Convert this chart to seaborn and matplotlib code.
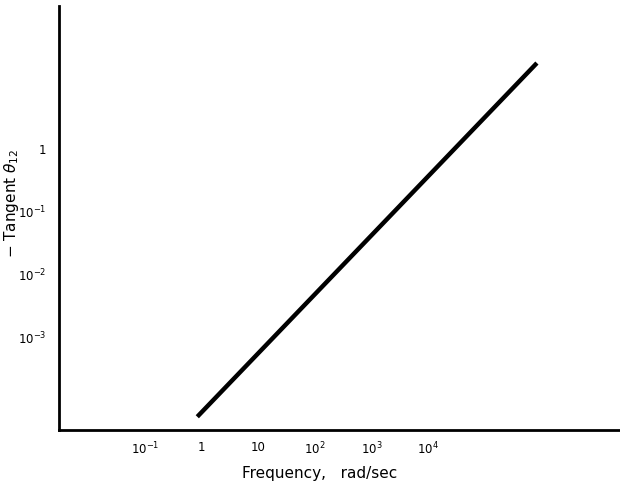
import numpy as np
import pandas as pd
import matplotlib
matplotlib.use("Agg")
import matplotlib.pyplot as plt
import seaborn as sns

# values (log-log straight line, end points)
frequency = [0.83, 8.5e5]      # rad/sec
tangent = [5.6e-5, 23.0]       # - tan(theta_12)

x_ticks = [1e-1, 1, 10, 1e2, 1e3, 1e4]
x_labels = ["10$^{-1}$", "1", "10", "10$^{2}$", "10$^{3}$", "10$^{4}$"]
y_ticks = [1e-3, 1e-2, 1e-1, 1]
y_labels = ["10$^{-3}$", "10$^{-2}$", "10$^{-1}$", "1"]

df = pd.DataFrame({"freq": frequency, "tan": tangent})

sns.set_style("white")
plt.rcParams["font.family"] = ["DejaVu Sans"]

fig = plt.figure(figsize=(6.2, 4.83), dpi=100)
ax = fig.add_axes([0.095, 0.110, 0.905, 0.878])

sns.lineplot(data=df, x="freq", y="tan", color="black", linewidth=3.2, ax=ax)
ax.lines[0].set_solid_capstyle("butt")

ax.set_xscale("log")
ax.set_yscale("log")
ax.set_xlim(10 ** -2.53, 10 ** 7.40)
ax.set_ylim(10 ** -4.46, 10 ** 2.27)

ax.set_xticks(x_ticks)
ax.set_xticklabels(x_labels)
ax.set_yticks(y_ticks)
ax.set_yticklabels(y_labels)
ax.minorticks_off()
ax.tick_params(axis="both", direction="in", length=5, width=1, colors="black",
               labelsize=8.5)
ax.tick_params(axis="x", pad=8)
ax.tick_params(axis="y", pad=9)

for s in ["top", "right"]:
    ax.spines[s].set_visible(False)
for s in ["left", "bottom"]:
    ax.spines[s].set_linewidth(2)
    ax.spines[s].set_color("black")

ax.set_xlabel("Frequency,   rad/sec", fontsize=11, color="black")
ax.xaxis.set_label_coords(0.465, -0.085)
ax.set_ylabel("$-$ Tangent $\\theta_{12}$", fontsize=11, color="black")
ax.yaxis.set_label_coords(-0.068, 0.535)

fig.savefig("out.png", dpi=100)
